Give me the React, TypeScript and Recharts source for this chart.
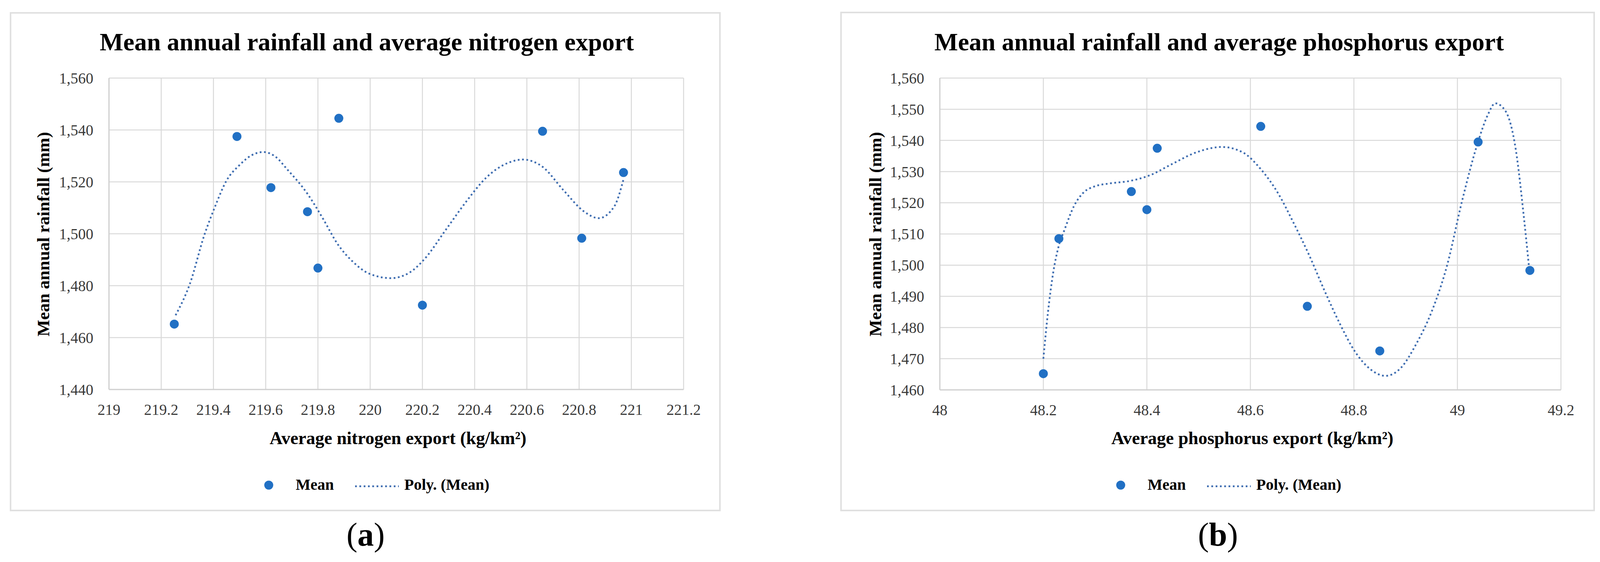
import React from 'react';
import { ComposedChart, Scatter, Line, XAxis, YAxis, CartesianGrid } from 'recharts';

// ---- data ----
const STATION_NITROGEN = [219.25, 219.49, 219.62, 219.76, 219.8, 219.88, 220.2, 220.66, 220.81, 220.97];
const STATION_PHOSPHORUS = [48.2, 48.42, 48.4, 48.23, 48.71, 48.62, 48.85, 49.04, 49.14, 48.37];
const STATION_RAINFALL = [1465.2, 1537.5, 1517.8, 1508.5, 1486.8, 1544.5, 1472.5, 1539.5, 1498.3, 1523.6];

const TREND_N_X = [219.255, 219.31, 219.365, 219.405, 219.45, 219.5, 219.545, 219.59, 219.64, 219.68, 219.76, 219.82, 219.875, 219.935, 219.995, 220.08, 220.15, 220.21, 220.29, 220.37, 220.445, 220.525, 220.585, 220.66, 220.74, 220.82, 220.875, 220.935, 220.97];
const TREND_N_Y = [1468.6, 1480.8, 1499.5, 1510.2, 1520.5, 1526.5, 1530.2, 1531.5, 1529.5, 1525.1, 1515.4, 1505.7, 1496.1, 1489.1, 1484.7, 1482.9, 1485.0, 1490.5, 1501.6, 1512.7, 1521.7, 1527.2, 1528.6, 1525.8, 1516.8, 1508.5, 1506.0, 1510.6, 1521.0];

const TREND_P_X = [48.2, 48.209, 48.219, 48.229, 48.241, 48.259, 48.279, 48.298, 48.328, 48.367, 48.407, 48.446, 48.496, 48.545, 48.585, 48.619, 48.654, 48.683, 48.713, 48.743, 48.772, 48.802, 48.832, 48.861, 48.891, 48.92, 48.95, 48.98, 49.009, 49.039, 49.059, 49.073, 49.093, 49.113, 49.128, 49.138];
const TREND_P_Y = [1470.0, 1485.0, 1497.6, 1505.7, 1511.4, 1518.9, 1523.5, 1525.2, 1526.2, 1527.0, 1528.9, 1532.2, 1536.2, 1537.9, 1536.2, 1531.0, 1522.9, 1513.7, 1503.4, 1491.9, 1481.5, 1472.3, 1466.6, 1464.5, 1467.1, 1474.6, 1485.0, 1499.9, 1520.6, 1539.1, 1548.3, 1551.9, 1549.4, 1536.8, 1516.0, 1499.9];

const N_TICKS = [219, 219.2, 219.4, 219.6, 219.8, 220, 220.2, 220.4, 220.6, 220.8, 221, 221.2];
const P_TICKS = [48, 48.2, 48.4, 48.6, 48.8, 49, 49.2];
const RAIN_TICKS_A = [1440, 1460, 1480, 1500, 1520, 1540, 1560];
const RAIN_TICKS_B = [1460, 1470, 1480, 1490, 1500, 1510, 1520, 1530, 1540, 1550, 1560];

const TITLE_A = 'Mean annual rainfall and average nitrogen export';
const TITLE_B = 'Mean annual rainfall and average phosphorus export';
const X_TITLE_A = 'Average nitrogen export (kg/km\u00B2)';
const X_TITLE_B = 'Average phosphorus export (kg/km\u00B2)';
const Y_TITLE = 'Mean annual rainfall (mm)';
const LEGEND_POINTS = 'Mean';
const LEGEND_TREND = 'Poly. (Mean)';

// ---- style ----
const FONT = '"Liberation Serif", "Times New Roman", serif';
const DOT = '#2170c4';
const TREND = '#3d6cb0';
const GRID = '#d9d9d9';
const FRAME = '#e0e0e0';

const pointsN = STATION_NITROGEN.map((x, i) => ({ x, y: STATION_RAINFALL[i] }));
const pointsP = STATION_PHOSPHORUS.map((x, i) => ({ x, y: STATION_RAINFALL[i] }));
const trendN = TREND_N_X.map((x, i) => ({ x, y: TREND_N_Y[i] }));
const trendP = TREND_P_X.map((x, i) => ({ x, y: TREND_P_Y[i] }));

const fmtX = (v: number) => String(Number(v.toFixed(1)));
const fmtY = (v: number) => Math.round(v).toLocaleString('en-US');

type PanelProps = {
  left: number;
  width: number;
  height: number;
  margin: { top: number; right: number; bottom: number; left: number };
  xTicks: number[];
  yTicks: number[];
  points: { x: number; y: number }[];
  trend: { x: number; y: number }[];
};

function Panel({ left, width, height, margin, xTicks, yTicks, points, trend }: PanelProps) {
  return (
    <div style={{ position: 'absolute', left, top: 0, width, height }}>
      <ComposedChart width={width} height={height} margin={margin}>
        <CartesianGrid stroke={GRID} strokeWidth={2.5} />
        <XAxis
          type="number"
          dataKey="x"
          domain={[xTicks[0], xTicks[xTicks.length - 1]]}
          ticks={xTicks}
          interval={0}
          allowDataOverflow
          tickFormatter={fmtX}
          tickLine={false}
          tickSize={0}
          tickMargin={37}
          height={100}
          axisLine={{ stroke: '#d0d0d0', strokeWidth: 3 }}
          tick={{ fill: '#3a3a3a', fontSize: 39, fontFamily: FONT }}
        />
        <YAxis
          type="number"
          dataKey="y"
          domain={[yTicks[0], yTicks[yTicks.length - 1]]}
          ticks={yTicks}
          interval={0}
          allowDataOverflow
          tickFormatter={fmtY}
          tickLine={false}
          tickSize={0}
          tickMargin={40}
          width={200}
          axisLine={{ stroke: '#d0d0d0', strokeWidth: 3 }}
          tick={{ fill: '#3a3a3a', fontSize: 39, fontFamily: FONT }}
        />
        <Line
          data={trend}
          dataKey="y"
          type="monotone"
          stroke={TREND}
          strokeWidth={4.5}
          strokeDasharray="4.5 6.5"
          dot={false}
          activeDot={false}
          isAnimationActive={false}
        />
        <Scatter
          data={points}
          fill={DOT}
          isAnimationActive={false}
          shape={(p: any) => <circle cx={p.cx} cy={p.cy} r={11.5} fill={DOT} />}
        />
      </ComposedChart>
    </div>
  );
}

function Decor({ frame, titleX, title, yTitleX, xTitleX, xTitle, legendX, caption, captionX }: any) {
  return (
    <g fontFamily={FONT}>
      <rect x={frame[0]} y={frame[1]} width={frame[2] - frame[0]} height={frame[3] - frame[1]} fill="#fff" stroke={FRAME} strokeWidth={4} />
      <text x={titleX} y={129} textAnchor="middle" fontSize={64} fontWeight="bold" fill="#000">{title}</text>
      <text transform={`translate(${yTitleX},600) rotate(-90)`} textAnchor="middle" fontSize={45} fontWeight="bold" fill="#000">{Y_TITLE}</text>
      <text x={xTitleX} y={1138} textAnchor="middle" fontSize={46} fontWeight="bold" fill="#000">{xTitle}</text>
      <circle cx={legendX} cy={1243} r={11.5} fill={DOT} />
      <text x={legendX + 69} y={1255} fontSize={40} fontWeight="bold" fill="#000">{LEGEND_POINTS}</text>
      <line x1={legendX + 221} y1={1246} x2={legendX + 333} y2={1246} stroke={TREND} strokeWidth={4.5} strokeDasharray="4.5 6.5" />
      <text x={legendX + 347} y={1255} fontSize={40} fontWeight="bold" fill="#000">{LEGEND_TREND}</text>
      <text x={captionX} y={1398} textAnchor="middle" fontSize={84} fill="#000">
        (<tspan fontWeight="bold">{caption}</tspan>)
      </text>
    </g>
  );
}

export default function App() {
  return (
    <div style={{ position: 'absolute', left: 0, top: 0, width: 4110, height: 1440, background: '#fff', overflow: 'hidden' }}>
      <svg width={4110} height={1440} style={{ position: 'absolute', left: 0, top: 0 }}>
        <Decor frame={[27, 33, 1843, 1308]} titleX={939} title={TITLE_A} yTitleX={126} xTitleX={1019} xTitle={X_TITLE_A} legendX={688} caption="a" captionX={936} />
        <Decor frame={[2153, 32, 4081, 1308]} titleX={3121} title={TITLE_B} yTitleX={2256} xTitleX={3206} xTitle={X_TITLE_B} legendX={2869} caption="b" captionX={3118} />
      </svg>
      <Panel
        left={0}
        width={1843}
        height={1308}
        margin={{ top: 200, right: 93, bottom: 210, left: 79 }}
        xTicks={N_TICKS}
        yTicks={RAIN_TICKS_A}
        points={pointsN}
        trend={trendN}
      />
      <Panel
        left={2153}
        width={1928}
        height={1308}
        margin={{ top: 200, right: 85, bottom: 209, left: 53 }}
        xTicks={P_TICKS}
        yTicks={RAIN_TICKS_B}
        points={pointsP}
        trend={trendP}
      />
    </div>
  );
}
